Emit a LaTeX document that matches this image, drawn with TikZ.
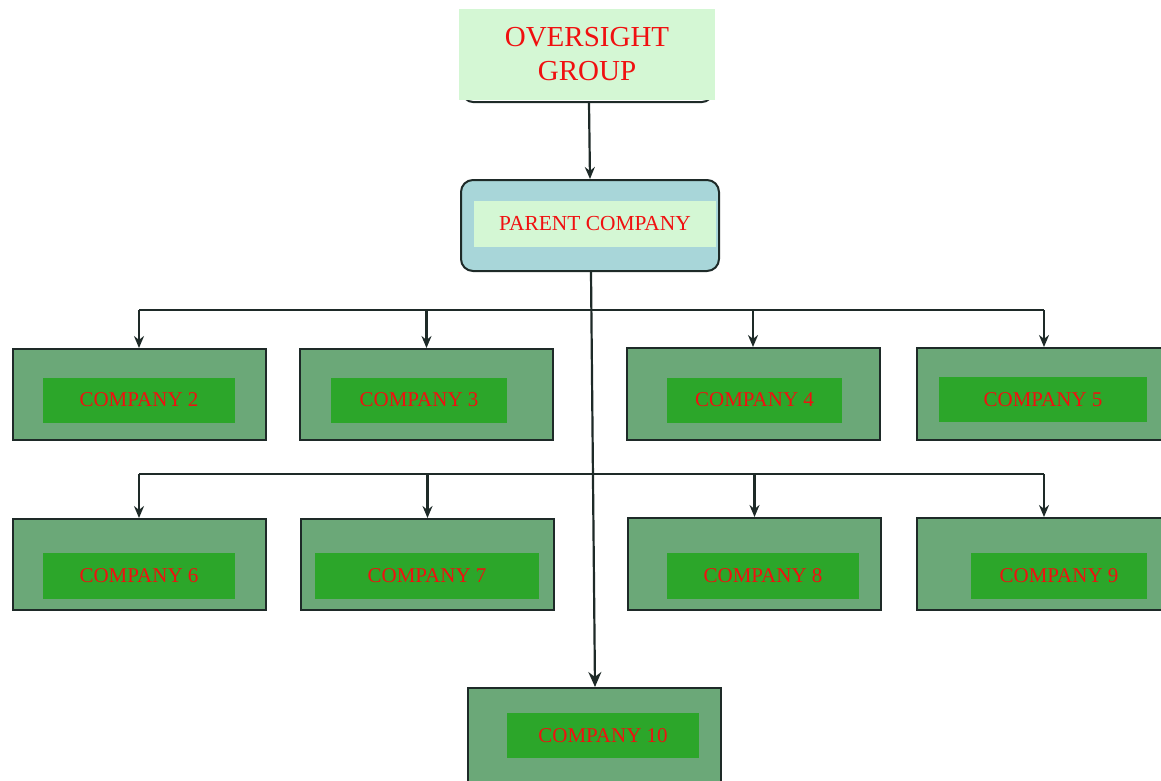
\documentclass[tikz,border=0pt]{standalone}
\usepackage{fontspec}
\setmainfont{Liberation Serif}
\usetikzlibrary{arrows.meta}
\definecolor{lightg}{HTML}{D4F7D4}
\definecolor{teal}{HTML}{A8D6D9}
\definecolor{midg}{HTML}{6BA878}
\definecolor{brightg}{HTML}{2CA62A}
\definecolor{ink}{HTML}{1E2A28}
\definecolor{txtred}{HTML}{F01010}
\tikzset{
  outerbox/.style={draw=ink, line width=2pt, fill=midg, minimum width=253pt, minimum height=91pt, inner sep=0pt},
  innerbox/.style={fill=brightg, text=txtred, font=\fontsize{21}{24}\selectfont, inner sep=0pt, minimum height=45pt, text depth=-1pt},
  conn/.style={draw=ink, line width=2.2pt},
  arr/.style={conn, -{Stealth[length=12pt,width=10pt]}},
  bigarr/.style={conn, -{Stealth[length=15pt,width=13pt]}},
}
\begin{document}
\begin{tikzpicture}[x=1pt,y=-1pt]
\useasboundingbox (0,0) rectangle (1161,780);
\clip (0,0) rectangle (1161,780);
% oversight group
\node[draw=ink, line width=2pt, fill=white, rounded corners=10pt, minimum width=249pt, minimum height=82pt, inner sep=0pt] (ogback) at (587.5,61) {};
\node[fill=lightg, minimum width=256pt, minimum height=91pt, inner sep=0pt, text=txtred, align=center, font=\fontsize{29}{34}\selectfont] (og) at (587,54.5) {OVERSIGHT\\GROUP};
% parent company
\node[draw=ink, line width=2pt, fill=teal, rounded corners=12pt, minimum width=258pt, minimum height=91pt, inner sep=0pt] (pc) at (590,225.5) {};
\node[fill=lightg, minimum width=242pt, minimum height=46pt, inner sep=0pt, text=txtred, font=\fontsize{21.4}{24}\selectfont] (pct) at (595,224) {PARENT COMPANY};
% row 1
\node[outerbox] (c2) at (139.5,394.5) {};
\node[outerbox] (c3) at (426.5,394.5) {};
\node[outerbox, minimum height=92pt] (c4) at (753,394) {};
\node[outerbox, minimum height=92pt] (c5) at (1043.5,394) {};
\node[innerbox, minimum width=192pt] (c2t) at (139,400) {COMPANY 2};
\node[innerbox, minimum width=176pt] (c3t) at (419,400) {COMPANY 3};
\node[innerbox, minimum width=175pt] (c4t) at (754.5,400) {COMPANY 4};
\node[innerbox, minimum width=208pt] (c5t) at (1043,399.5) {COMPANY 5};
% row 2
\node[outerbox] (c6) at (139.5,564.5) {};
\node[outerbox] (c7) at (427.5,564.5) {};
\node[outerbox, minimum height=92pt] (c8) at (754.5,564) {};
\node[outerbox, minimum height=92pt] (c9) at (1043.5,564) {};
\node[innerbox, minimum width=192pt, minimum height=46pt] (c6t) at (139,576) {COMPANY 6};
\node[innerbox, minimum width=224pt, minimum height=46pt] (c7t) at (427,576) {COMPANY 7};
\node[innerbox, minimum width=192pt, minimum height=46pt] (c8t) at (763,576) {COMPANY 8};
\node[innerbox, minimum width=176pt, minimum height=46pt] (c9t) at (1059,576) {COMPANY 9};
% company 10
\node[outerbox, minimum height=100pt] (c10) at (594.5,738) {};
\node[innerbox, minimum width=192pt] (c10t) at (603,735.5) {COMPANY 10};
% bus coordinates
\coordinate (b1L) at (139,310);
\coordinate (b1R) at (1044,310);
\coordinate (b2L) at (139,474);
\coordinate (b2R) at (1044,474);
% connectors
\draw[arr] (ogback.south -| 589,0) -- (pc.north -| 590,0);
\draw[bigarr] (pc.south -| 591,0) -- (c10.north -| 595,0);
\draw[conn] (b1L) -- (b1R);
\draw[conn] (b2L) -- (b2R);
\draw[arr] (b1L) -- (c2.north -| b1L);
\draw[arr] (c3.north |- b1L) -- (c3.north);
\draw[arr] (c4.north |- b1L) -- (c4.north);
\draw[arr] (b1R) -- (c5.north -| b1R);
\draw[arr] (b2L) -- (c6.north -| b2L);
\draw[arr] (c7.north |- b2L) -- (c7.north);
\draw[arr] (c8.north |- b2L) -- (c8.north);
\draw[arr] (b2R) -- (c9.north -| b2R);
\end{tikzpicture}
\end{document}
